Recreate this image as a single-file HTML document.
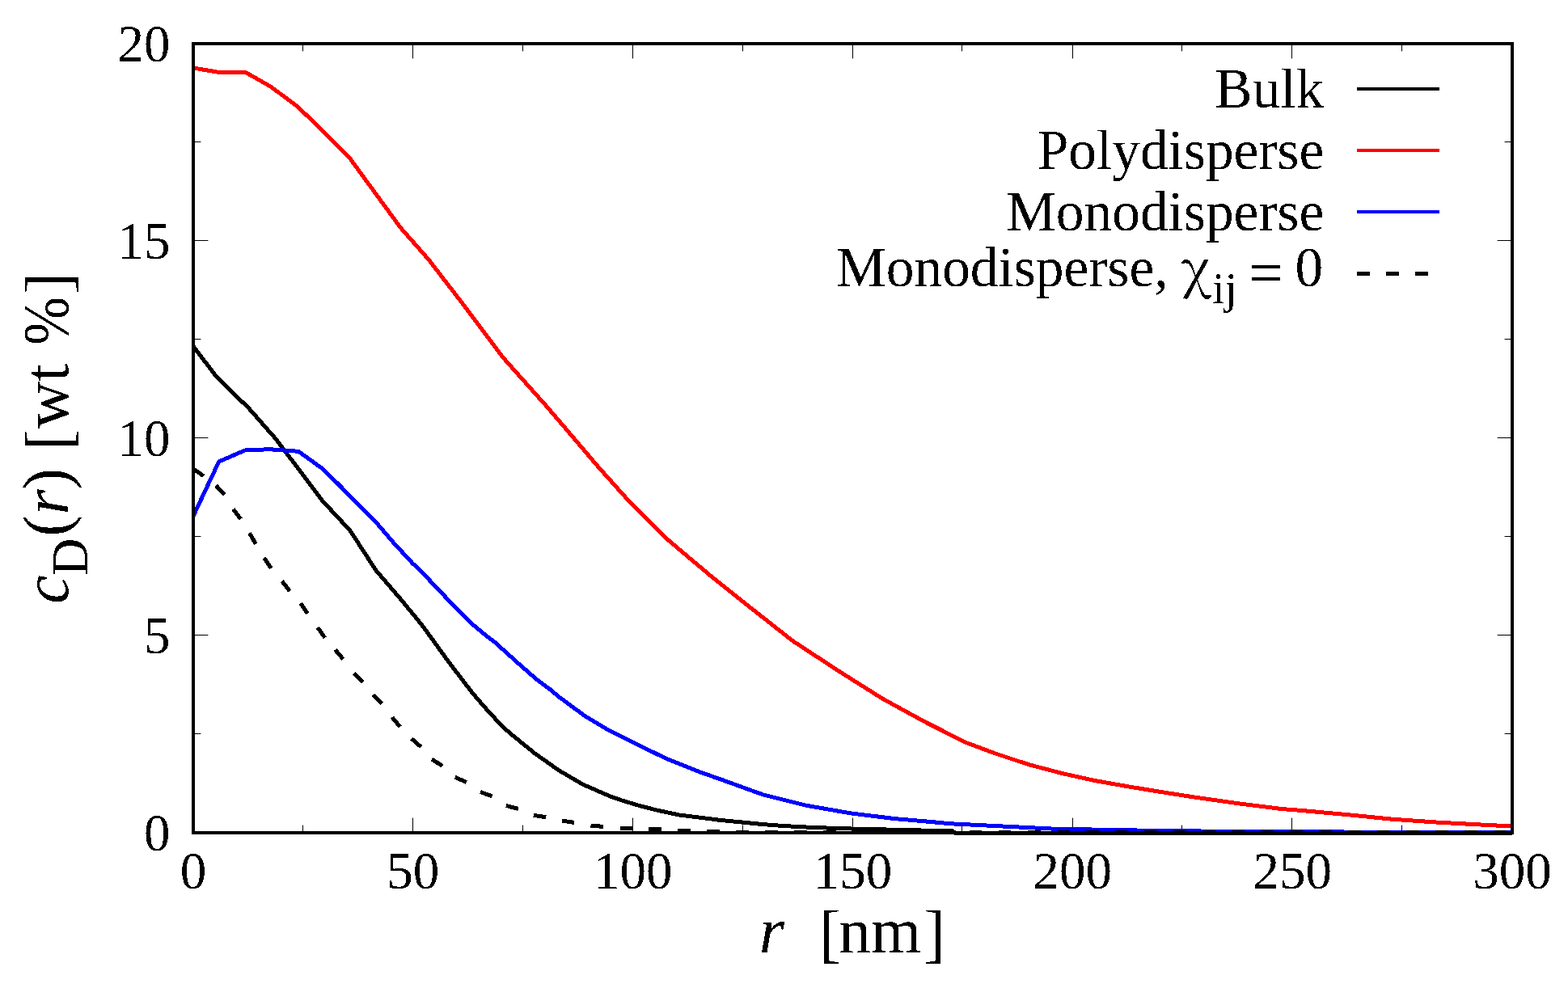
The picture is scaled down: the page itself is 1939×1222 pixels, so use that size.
<!DOCTYPE html>
<html><head><meta charset="utf-8"><title>c_D(r) profile</title>
<style>
html,body{margin:0;padding:0;background:#fff;}
body{width:1939px;height:1222px;overflow:hidden;}
svg{display:block;}
text{font-family:"Liberation Serif", "Times New Roman", serif;fill:#000;}
</style></head><body>
<svg width="1939" height="1222" viewBox="0 0 1939 1222">
<rect x="0" y="0" width="1939" height="1222" fill="#fff"/>
<defs><filter id="aa" x="0" y="0" width="100%" height="100%" filterUnits="userSpaceOnUse" color-interpolation-filters="sRGB"><feComponentTransfer><feFuncA type="discrete" tableValues="0 1"/></feComponentTransfer></filter></defs>

<path d="M374.5 1030.0v-9M374.5 54.0v9M510.5 1030.0v-18M510.5 54.0v18M646.5 1030.0v-9M646.5 54.0v9M782.5 1030.0v-18M782.5 54.0v18M918.5 1030.0v-9M918.5 54.0v9M1054.5 1030.0v-18M1054.5 54.0v18M1189.5 1030.0v-9M1189.5 54.0v9M1326.5 1030.0v-18M1326.5 54.0v18M1461.5 1030.0v-9M1461.5 54.0v9M1597.5 1030.0v-18M1597.5 54.0v18M1733.5 1030.0v-9M1733.5 54.0v9M239.0 907.5h9M1870.0 907.5h-9M239.0 785.5h18M1870.0 785.5h-18M239.0 663.5h9M1870.0 663.5h-9M239.0 541.5h18M1870.0 541.5h-18M239.0 419.5h9M1870.0 419.5h-9M239.0 297.5h18M1870.0 297.5h-18M239.0 175.5h9M1870.0 175.5h-9" stroke="#000" stroke-width="1" stroke-linecap="round" fill="none"/>
<g fill="none" stroke-width="5" stroke-linejoin="miter" stroke-linecap="butt" shape-rendering="crispEdges">
<polyline points="239.0,428.2 267.5,465.8 295.6,493.3 307.0,504.2 341.1,542.9 398.4,619.0 433.0,656.3 464.6,705.0 495.0,740.5 521.7,772.9 554.4,818.1 584.1,857.0 597.9,873.1 620.0,897.2 630.3,906.5 661.3,931.8 691.2,952.9 720.6,970.1 754.7,985.0 769.0,990.0 790.0,996.3 812.0,1002.0 840.0,1008.0 864.0,1011.0 890.0,1014.3 943.6,1019.6 960.0,1020.9 978.0,1022.0 997.0,1023.0 1022.0,1024.0 1059.0,1025.2 1113.8,1026.4 1160.0,1027.5 1178.0,1027.9 1182.0,1030.5 1870.0,1030.5" stroke="#000"/>
<polyline points="239.0,84.0 271.0,89.5 303.4,89.3 334.4,106.9 367.6,131.5 381.3,144.7 431.7,194.5 495.3,281.6 530.0,321.0 572.7,376.4 622.3,442.5 677.3,504.1 740.3,578.0 776.2,618.1 824.3,666.2 850.0,688.0 880.0,713.2 925.8,749.8 980.7,793.0 1040.0,831.8 1091.6,864.3 1143.1,892.5 1194.7,918.5 1230.0,931.7 1271.3,945.4 1312.5,956.3 1353.8,965.5 1395.0,972.8 1430.0,978.6 1477.3,986.1 1530.9,993.7 1584.5,1000.5 1610.0,1002.5 1665.7,1007.6 1721.4,1013.2 1777.1,1017.1 1832.8,1020.1 1870.0,1022.0" stroke="#ff0000"/>
<polyline points="239.0,638.3 270.7,571.0 302.8,557.0 333.2,555.7 369.2,558.3 400.1,580.7 422.5,603.0 443.7,624.8 466.0,647.1 485.0,669.4 510.0,696.6 520.2,706.1 563.7,751.9 581.8,770.0 600.0,785.2 611.6,794.1 646.0,825.0 663.3,840.0 680.0,852.5 692.2,862.7 723.1,885.4 754.1,904.0 785.0,919.4 823.8,938.2 865.0,954.7 890.0,963.5 943.6,982.9 997.3,996.3 1050.9,1005.7 1104.5,1012.4 1150.0,1016.4 1175.7,1018.8 1237.5,1021.9 1299.4,1025.0 1390.0,1026.8 1500.0,1028.2 1700.0,1029.2 1870.0,1029.5" stroke="#0000ff"/>
<path d="M239.0 579.8L251.7 588.8M267.0 600.4L277.7 611.7M288.4 629.6L297.6 642.1M308.5 659.5L316.4 672.9M326.7 690.0L335.2 702.9M348.7 718.9L358.3 731.0M371.8 746.0L380.4 758.9M392.8 776.2L401.8 788.8M414.5 803.6L424.4 815.4M437.7 832.6L448.7 843.6M461.7 859.3L472.2 870.7M484.9 887.1L494.8 899.0M508.8 913.6L520.5 923.7M534.0 939.2L547.2 947.3M562.6 961.3L576.9 967.5M594.0 979.5L608.5 984.9M625.9 996.5L641.0 1000.4M659.8 1008.4L675.2 1010.7M694.9 1015.1L710.2 1017.4M730.5 1021.3L746.0 1022.3M766.7 1024.0L782.2 1024.6M802.2 1025.6L817.7 1026.0M838.4 1027.2L853.9 1027.5M874.3 1028.0L889.7 1028.2M910.2 1029.5H926.0M946.2 1029.5H962.0M982.3 1029.5H998.1M1018.3 1029.5H1034.1M1054.4 1029.5H1070.2M1090.4 1029.5H1106.2M1126.5 1029.5H1142.3M1162.5 1029.5H1178.3M1198.6 1029.5H1214.4M1234.6 1029.5H1250.4M1270.7 1029.5H1286.5M1306.7 1029.5H1322.5M1342.8 1029.5H1358.6M1378.8 1029.5H1394.6M1414.9 1029.5H1430.7M1450.9 1029.5H1466.7M1487.0 1029.5H1502.8M1523.0 1029.5H1538.8M1559.1 1029.5H1574.9M1595.1 1029.5H1610.9M1631.2 1029.5H1647.0M1667.2 1029.5H1683.0M1703.3 1029.5H1719.1M1739.3 1029.5H1755.1M1775.4 1029.5H1791.2M1811.4 1029.5H1827.2M1847.5 1029.5H1863.3" stroke="#000"/>
</g>
<rect x="239.0" y="54.0" width="1631.0" height="976.0" fill="none" stroke="#000" stroke-width="4"/>
<g filter="url(#aa)">
<text x="210.5" y="1051.5" font-size="65" text-anchor="end">0</text>
<text x="210.5" y="807.5" font-size="65" text-anchor="end">5</text>
<text x="210.5" y="563.5" font-size="65" text-anchor="end">10</text>
<text x="210.5" y="319.5" font-size="65" text-anchor="end">15</text>
<text x="210.5" y="75.5" font-size="65" text-anchor="end">20</text>
<text x="239.0" y="1099.3" font-size="65" text-anchor="middle">0</text>
<text x="510.8" y="1099.3" font-size="65" text-anchor="middle">50</text>
<text x="782.7" y="1099.3" font-size="65" text-anchor="middle">100</text>
<text x="1054.5" y="1099.3" font-size="65" text-anchor="middle">150</text>
<text x="1326.3" y="1099.3" font-size="65" text-anchor="middle">200</text>
<text x="1598.2" y="1099.3" font-size="65" text-anchor="middle">250</text>
<text x="1870.0" y="1099.3" font-size="65" text-anchor="middle">300</text>
<text x="938.7" y="1178" font-size="80"><tspan font-style="italic">r</tspan></text>
<text y="1178" font-size="80"><tspan x="1013" dy="2.5">[</tspan><tspan x="1037" dy="-2.5">nm</tspan><tspan x="1142.1" dy="2.5">]</tspan></text>
<text transform="rotate(-90)"><tspan x="-747.0" y="84.1" font-size="80" font-style="italic">c</tspan><tspan x="-712.1" y="107.9" font-size="64">D</tspan><tspan x="-663.5" y="84.1" font-size="80">(</tspan><tspan x="-636.6" y="84.1" font-size="80" font-style="italic">r</tspan><tspan x="-605.6" y="84.1" font-size="80">) </tspan><tspan x="-557.2" y="86.1" font-size="80">[</tspan><tspan x="-529.7" y="84.1" font-size="80">w</tspan><tspan x="-472.0" y="84.1" font-size="80">t </tspan><tspan x="-364.0" y="86.1" font-size="80">]</tspan></text>
<text transform="rotate(-90) translate(-426.7 84.1) scale(0.895 1)" font-size="80">%</text>
<text x="1637.3" y="133.1" font-size="69.4" text-anchor="end">Bulk</text>
<path d="M1678 110H1780" stroke="#000" stroke-width="4"/>
<text x="1637.3" y="209.1" font-size="69.4" text-anchor="end">Polydisperse</text>
<path d="M1678 186H1780" stroke="#ff0000" stroke-width="4"/>
<text x="1637.3" y="285.1" font-size="69.4" text-anchor="end">Monodisperse</text>
<path d="M1678 262H1780" stroke="#0000ff" stroke-width="4"/>
<text x="1444.6" y="354.3" font-size="69.4" text-anchor="end">Monodisperse,</text>
<text x="1460.6" y="355.5" font-size="67" style="font-family:'Noto Serif CJK SC', 'Liberation Serif', serif">χ</text>
<text x="1499" y="374.7" font-size="55.5">ij</text>
<text x="1544.2" y="361.5" font-size="75">=</text>
<text x="1601.6" y="354.3" font-size="69.4">0</text>
<path d="M1678 338.5H1780" stroke="#000" stroke-width="5" stroke-dasharray="16 20"/>
</g>
</svg></body></html>
